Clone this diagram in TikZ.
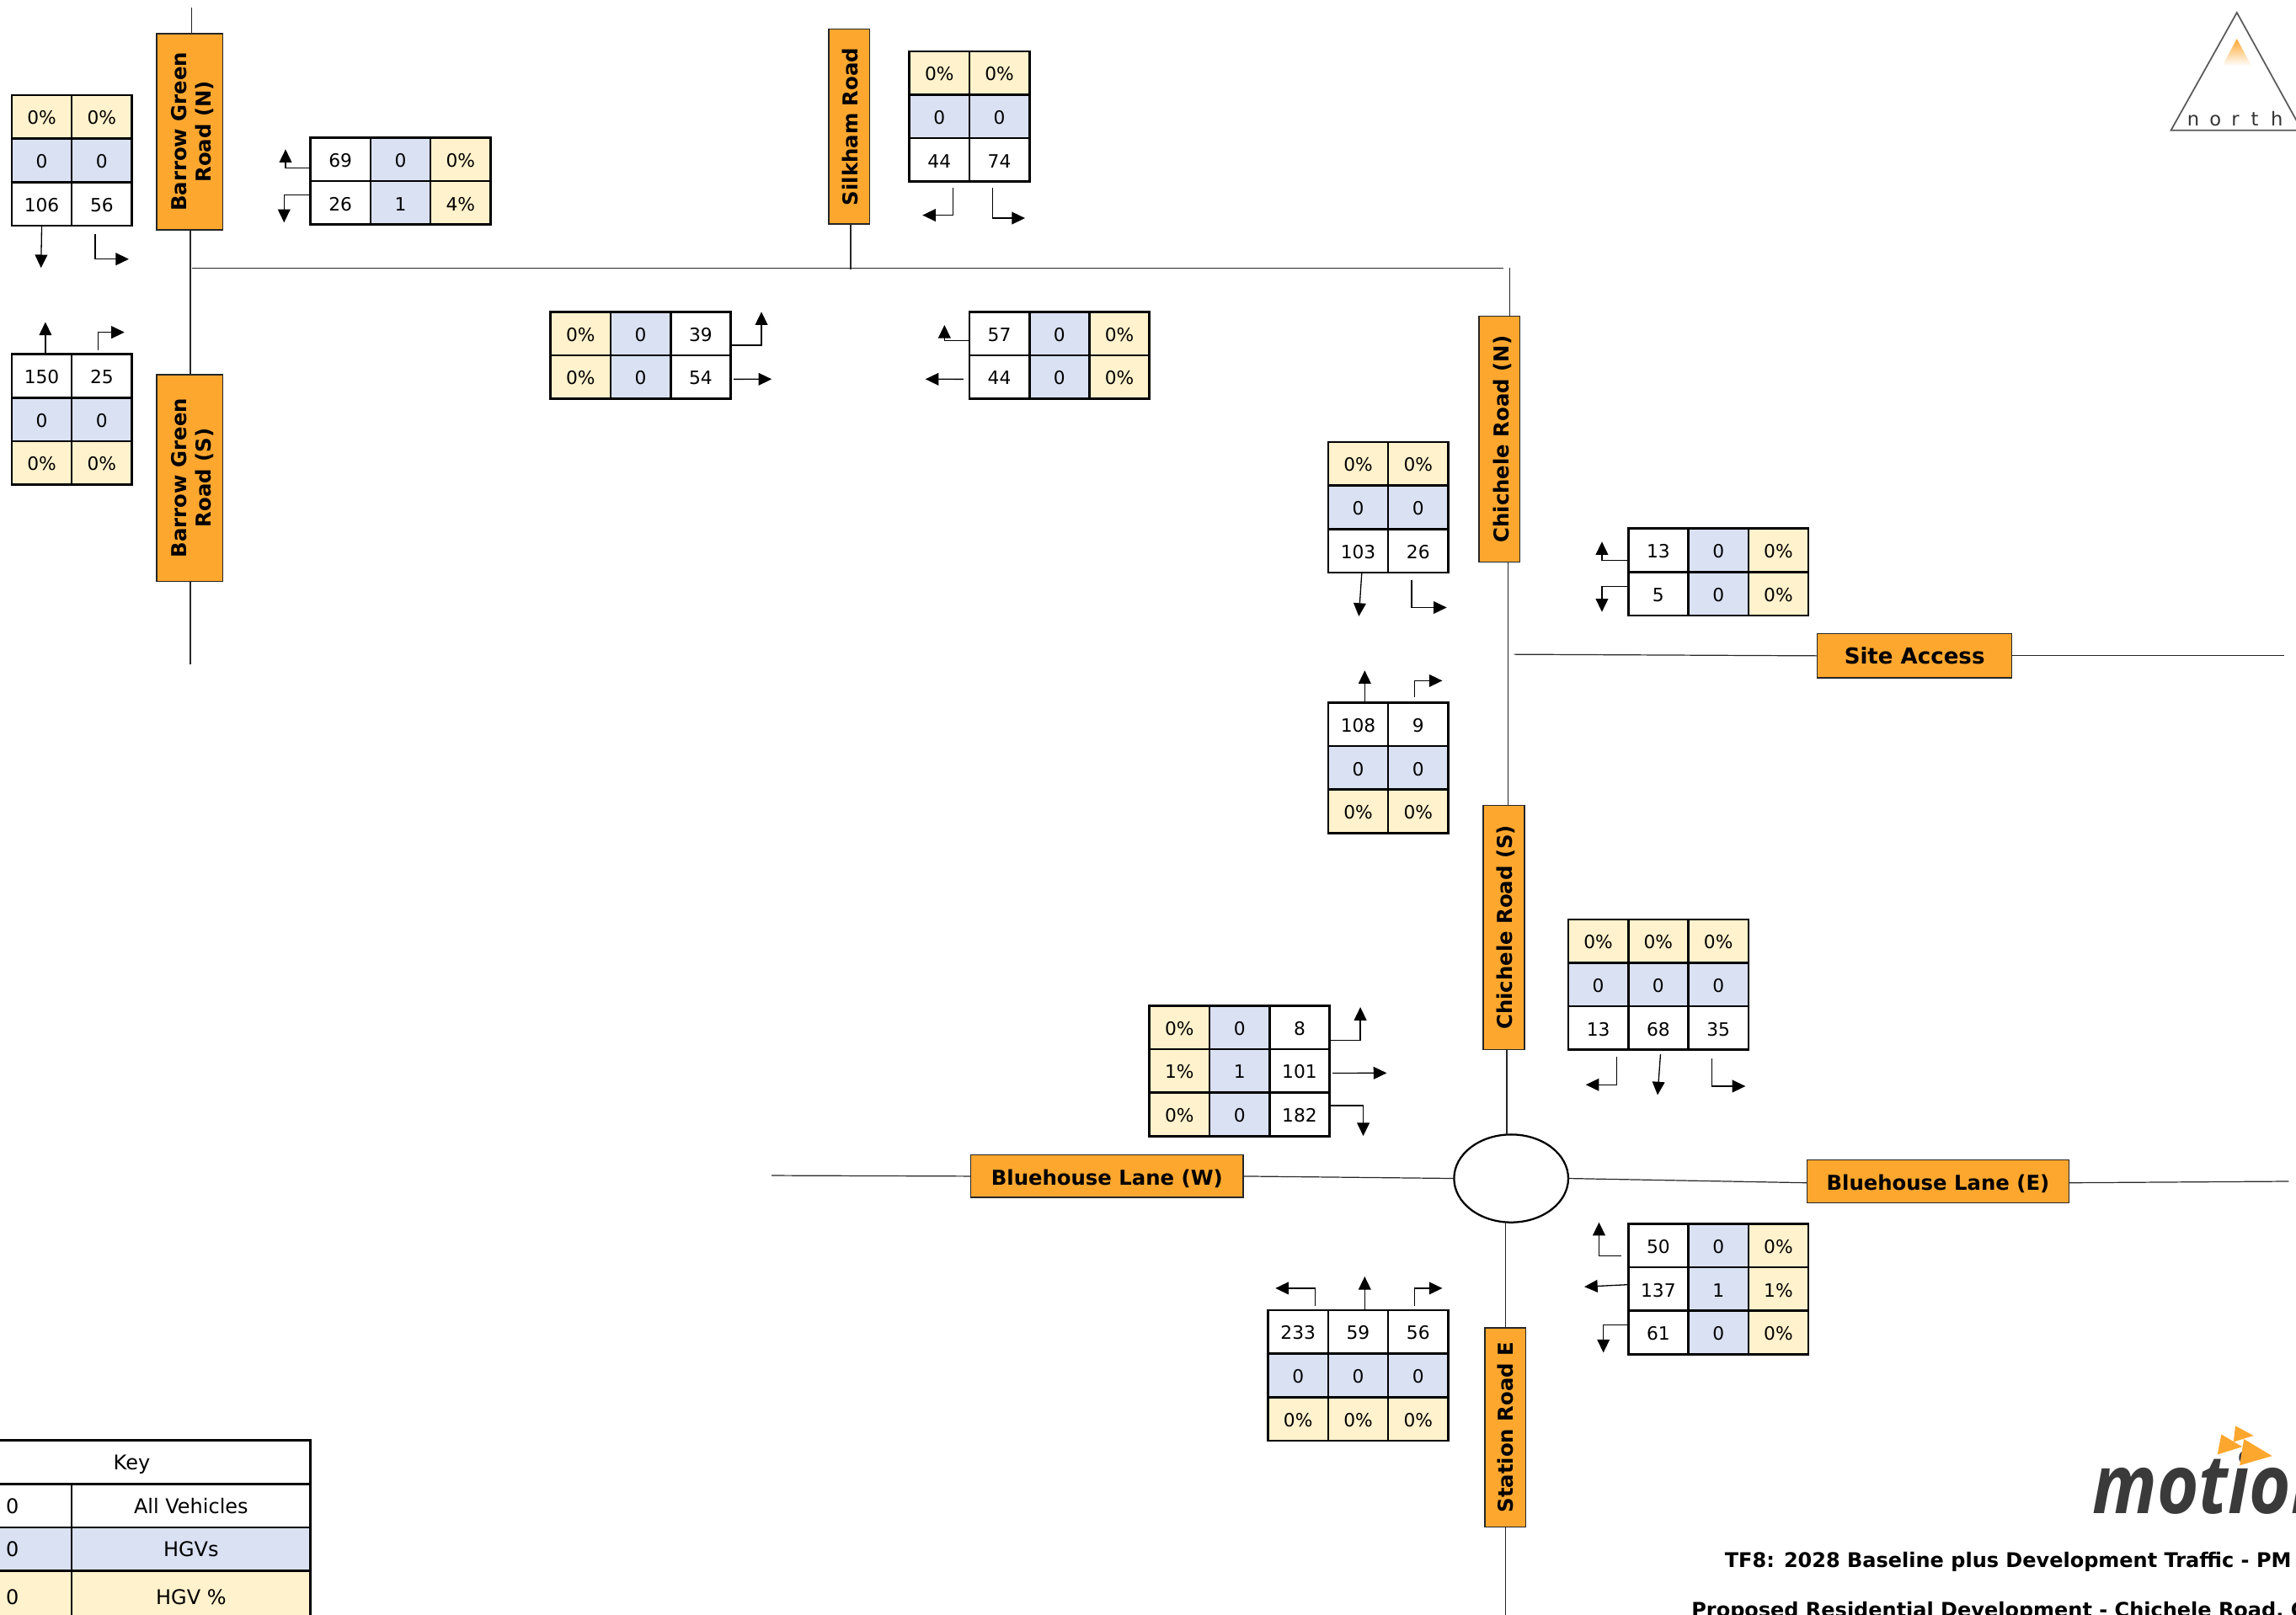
\documentclass[tikz,border=0pt]{standalone}
\usepackage{fontspec}
\setmainfont{DejaVu Sans}
\newfontfamily\logofont{Open Sans}
\usetikzlibrary{calc,arrows.meta,positioning,shapes.geometric}
\definecolor{roadorange}{HTML}{FDA72F}
\definecolor{hgvblue}{HTML}{D9E1F2}
\definecolor{pctcream}{HTML}{FFF2CC}
\definecolor{logogrey}{HTML}{3A3A3A}
\tikzset{
  volcell/.style={draw=black, line width=1.5pt, fill=white, outer sep=0pt, inner sep=0pt,
    minimum width=41pt, minimum height=29.7pt, text height=10.5pt, text depth=0pt,
    font=\fontsize{12.5}{15}\selectfont},
  hgvcell/.style={volcell, fill=hgvblue},
  pctcell/.style={volcell, fill=pctcream},
  keytext/.style={font=\fontsize{13.8}{16}\selectfont},
  roadlabel/.style={draw=black!85, line width=0.8pt, fill=roadorange, outer sep=0pt, inner sep=0pt,
    align=center, font=\fontsize{14}{17}\selectfont\bfseries},
  uplabel/.style={roadlabel, rotate=90},
  road/.style={draw=black!85, line width=0.7pt},
  arr/.style={-{Triangle[length=9pt,width=8.5pt]}, line width=0.75pt}
}
\begin{document}
\begin{tikzpicture}[x=1pt, y=-1pt, node distance=0pt and 0pt]
  \useasboundingbox (0,0) rectangle (1568,1103);

  % road names
  \node[uplabel, minimum width=134pt, minimum height=45pt, text height=31.5pt] (bgn) at (129.5,90) {Barrow Green\\Road (N)};
  \node[uplabel, minimum width=141pt, minimum height=45pt, text height=31.5pt] (bgs) at (129.5,326.5) {Barrow Green\\Road (S)};
  \node[uplabel, minimum width=133pt, minimum height=28pt, text height=12pt, text depth=0pt] (silk) at (580,86.5) {Silkham Road};
  \node[uplabel, minimum width=168pt, minimum height=28pt, text height=12.5pt, text depth=0pt] (chn) at (1024,300) {Chichele Road (N)};
  \node[uplabel, minimum width=167pt, minimum height=28pt, text height=12pt, text depth=0pt] (chs) at (1027,633.5) {Chichele Road (S)};
  \node[uplabel, minimum width=136pt, minimum height=28pt] (stn) at (1028,975) {Station Road E};
  \node[roadlabel, minimum width=133pt, minimum height=30pt, font=\fontsize{15}{18}\selectfont\bfseries] (site) at (1307.5,448) {Site Access};
  \node[roadlabel, minimum width=186pt, minimum height=29pt, text height=12pt, text depth=0pt] (blw) at (756,803.5) {Bluehouse Lane (W)};
  \node[roadlabel, minimum width=179pt, minimum height=29pt, text height=12pt, text depth=0pt] (ble) at (1323.5,807) {Bluehouse Lane (E)};
  \node[draw=black, line width=1.3pt, fill=white, shape=ellipse, outer sep=0pt, minimum width=78pt, minimum height=60pt] (rbt) at (1032,805) {};

  % road ends
  \coordinate (bgtop) at (131,5);
  \coordinate (bgend) at (130,454);
  \coordinate (bgjn) at (131,183);
  \coordinate (chjn) at (1027,183);
  \coordinate (silkjn) at (581,184);
  \coordinate (chtop) at (1031,183);
  \coordinate (sitew) at (1034,447);
  \coordinate (sitee) at (1560,448);
  \coordinate (blwend) at (527,803);
  \coordinate (bleend) at (1563,807);
  \coordinate (stnend) at (1028,1103);

  \draw[road] (bgtop) -- ([xshift=1.5pt]bgn.east);
  \draw[road] ([xshift=0.5pt]bgn.west) -- ([xshift=0.5pt]bgs.east);
  \draw[road] ([xshift=0.5pt]bgs.west) -- (bgend);
  \draw[road] (bgjn) -- (chjn);
  \draw[road] ([xshift=1pt]silk.west) -- (silkjn);
  \draw[road] (chtop) -- ([xshift=7pt]chn.east);
  \draw[road] ([xshift=6pt]chn.west) -- ([xshift=3pt]chs.east);
  \draw[road] ([xshift=2pt]chs.west) -- ([xshift=-3pt]rbt.north);
  \draw[road] ([xshift=-4pt]rbt.south) -- (stn.east);
  \draw[road] (stn.west) -- (stnend);
  \draw[road] (sitew) -- (site.west);
  \draw[road] (site.east) -- (sitee);
  \draw[road] (blwend) -- (blw.west);
  \draw[road] (blw.east) -- (rbt.west);
  \draw[road] (rbt.east) -- ([yshift=-1pt]ble.west);
  \draw[road] ([yshift=-1pt]ble.east) -- (bleend);

  % barrow green north arm
  \node[pctcell, anchor=north west] (a1) at (8,65) {0\%};
  \node[pctcell, right=of a1] (a2) {0\%};
  \node[hgvcell, below=of a1] (a3) {0};
  \node[hgvcell, right=of a3] (a4) {0};
  \node[volcell, below=of a3] (a5) {106};
  \node[volcell, right=of a5] (a6) {56};
  \coordinate (a5e) at (28,183);
  \coordinate (a6e) at (88,177);
  \draw[arr] (a5.south) -- (a5e);
  \draw[arr] ([xshift=-4.5pt,yshift=-6pt]a6.south) |- (a6e);

  % barrow green east arm
  \node[volcell, anchor=north west] (b1) at (212,94) {69};
  \node[hgvcell, right=of b1] (b2) {0};
  \node[pctcell, right=of b2] (b3) {0\%};
  \node[volcell, below=of b1] (b4) {26};
  \node[hgvcell, right=of b4] (b5) {1};
  \node[pctcell, right=of b5] (b6) {4\%};
  \coordinate (b1e) at (195,102);
  \coordinate (b4e) at (194,152);
  \draw[arr] ([yshift=-6pt]b1.west) -| (b1e);
  \draw[arr] ([yshift=5.5pt]b4.west) -| (b4e);

  % barrow green south arm
  \node[volcell, anchor=north west] (c1) at (8,242) {150};
  \node[volcell, right=of c1] (c2) {25};
  \node[hgvcell, below=of c1] (c3) {0};
  \node[hgvcell, right=of c3] (c4) {0};
  \node[pctcell, below=of c3] (c5) {0\%};
  \node[pctcell, right=of c5] (c6) {0\%};
  \coordinate (c1e) at (31,220);
  \coordinate (c2e) at (85,227);
  \draw[arr] ([xshift=2.5pt]c1.north) -- (c1e);
  \draw[arr] ([xshift=-2.5pt,yshift=3pt]c2.north) |- (c2e);

  % silkham road arm
  \node[pctcell, anchor=north west] (d1) at (621,35) {0\%};
  \node[pctcell, right=of d1] (d2) {0\%};
  \node[hgvcell, below=of d1] (d3) {0};
  \node[hgvcell, right=of d3] (d4) {0};
  \node[volcell, below=of d3] (d5) {44};
  \node[volcell, right=of d5] (d6) {74};
  \coordinate (d5e) at (630,147);
  \coordinate (d6e) at (700,149);
  \draw[arr] ([xshift=9.5pt,yshift=-4pt]d5.south) |- (d5e);
  \draw[arr] ([xshift=-4.5pt,yshift=-4pt]d6.south) |- (d6e);

  % silkham west side
  \node[pctcell, anchor=north west] (e1) at (376,213) {0\%};
  \node[hgvcell, right=of e1] (e2) {0};
  \node[volcell, right=of e2] (e3) {39};
  \node[pctcell, below=of e1] (e4) {0\%};
  \node[hgvcell, right=of e4] (e5) {0};
  \node[volcell, right=of e5] (e6) {54};
  \coordinate (e3e) at (520,213);
  \coordinate (e6e) at (527,259);
  \draw[arr] ([yshift=-8pt]e3.east) -| (e3e);
  \draw[arr] ([xshift=2pt,yshift=-1.5pt]e6.east) -- (e6e);

  % silkham east side
  \node[volcell, anchor=north west] (f1) at (662,213) {57};
  \node[hgvcell, right=of f1] (f2) {0};
  \node[pctcell, right=of f2] (f3) {0\%};
  \node[volcell, below=of f1] (f4) {44};
  \node[hgvcell, right=of f4] (f5) {0};
  \node[pctcell, right=of f5] (f6) {0\%};
  \coordinate (f1e) at (645,222);
  \coordinate (f4e) at (632,259);
  \draw[arr] ([yshift=-5pt]f1.west) -| (f1e);
  \draw[arr] ([xshift=-4pt,yshift=-1.5pt]f4.west) -- (f4e);

  % chichele north arm
  \node[pctcell, anchor=north west] (g1) at (907,302) {0\%};
  \node[pctcell, right=of g1] (g2) {0\%};
  \node[hgvcell, below=of g1] (g3) {0};
  \node[hgvcell, right=of g3] (g4) {0};
  \node[volcell, below=of g3] (g5) {103};
  \node[volcell, right=of g5] (g6) {26};
  \coordinate (g5e) at (928,421);
  \coordinate (g6e) at (988,415);
  \draw[arr] ([xshift=2.5pt]g5.south) -- (g5e);
  \draw[arr] ([xshift=-4.5pt,yshift=-5pt]g6.south) |- (g6e);

  % site access arm
  \node[volcell, anchor=north west] (h1) at (1112,361) {13};
  \node[hgvcell, right=of h1] (h2) {0};
  \node[pctcell, right=of h2] (h3) {0\%};
  \node[volcell, below=of h1] (h4) {5};
  \node[hgvcell, right=of h4] (h5) {0};
  \node[pctcell, right=of h5] (h6) {0\%};
  \coordinate (h1e) at (1094,370);
  \coordinate (h4e) at (1094,418);
  \draw[arr] ([yshift=-7pt]h1.west) -| (h1e);
  \draw[arr] ([yshift=5pt]h4.west) -| (h4e);

  % chichele south arm
  \node[volcell, anchor=north west] (i1) at (907,480) {108};
  \node[volcell, right=of i1] (i2) {9};
  \node[hgvcell, below=of i1] (i3) {0};
  \node[hgvcell, right=of i3] (i4) {0};
  \node[pctcell, below=of i3] (i5) {0\%};
  \node[pctcell, right=of i5] (i6) {0\%};
  \coordinate (i1e) at (932,458);
  \coordinate (i2e) at (985,465);
  \draw[arr] ([xshift=4.5pt]i1.north) -- (i1e);
  \draw[arr] ([xshift=-2.5pt,yshift=4pt]i2.north) |- (i2e);

  % roundabout north arm
  \node[pctcell, anchor=north west] (j1) at (1071,628) {0\%};
  \node[pctcell, right=of j1] (j2) {0\%};
  \node[pctcell, right=of j2] (j3) {0\%};
  \node[hgvcell, below=of j1] (j4) {0};
  \node[hgvcell, right=of j4] (j5) {0};
  \node[hgvcell, right=of j5] (j6) {0};
  \node[volcell, below=of j4] (j7) {13};
  \node[volcell, right=of j7] (j8) {68};
  \node[volcell, right=of j8] (j9) {35};
  \coordinate (j7e) at (1083,741);
  \coordinate (j8e) at (1132,748);
  \coordinate (j9e) at (1192,742);
  \draw[arr] ([xshift=12.5pt,yshift=-5pt]j7.south) |- (j7e);
  \draw[arr] ([xshift=1.5pt,yshift=-3pt]j8.south) -- (j8e);
  \draw[arr] ([xshift=-4.5pt,yshift=-6pt]j9.south) |- (j9e);

  % roundabout west arm
  \node[pctcell, anchor=north west] (k1) at (785,687) {0\%};
  \node[hgvcell, right=of k1] (k2) {0};
  \node[volcell, right=of k2] (k3) {8};
  \node[pctcell, below=of k1] (k4) {1\%};
  \node[hgvcell, right=of k4] (k5) {1};
  \node[volcell, right=of k5] (k6) {101};
  \node[pctcell, below=of k4] (k7) {0\%};
  \node[hgvcell, right=of k7] (k8) {0};
  \node[volcell, right=of k8] (k9) {182};
  \coordinate (k3e) at (929,688);
  \coordinate (k6e) at (947,733);
  \coordinate (k9e) at (931,776);
  \draw[arr] ([yshift=-9pt]k3.east) -| (k3e);
  \draw[arr] ([xshift=2pt,yshift=-1.5pt]k6.east) -- (k6e);
  \draw[arr] ([yshift=6pt]k9.east) -| (k9e);

  % roundabout east arm
  \node[volcell, anchor=north west] (l1) at (1112,836) {50};
  \node[hgvcell, right=of l1] (l2) {0};
  \node[pctcell, right=of l2] (l3) {0\%};
  \node[volcell, below=of l1] (l4) {137};
  \node[hgvcell, right=of l4] (l5) {1};
  \node[pctcell, right=of l5] (l6) {1\%};
  \node[volcell, below=of l4] (l7) {61};
  \node[hgvcell, right=of l7] (l8) {0};
  \node[pctcell, right=of l8] (l9) {0\%};
  \coordinate (l1e) at (1092,835);
  \coordinate (l4e) at (1082,879);
  \coordinate (l7e) at (1095,924);
  \draw[arr] ([xshift=-5pt,yshift=-7pt]l1.west) -| (l1e);
  \draw[arr] ([yshift=3pt]l4.west) -- (l4e);
  \draw[arr] ([yshift=5pt]l7.west) -| (l7e);

  % roundabout south arm
  \node[volcell, anchor=north west] (m1) at (866,895) {233};
  \node[volcell, right=of m1] (m2) {59};
  \node[volcell, right=of m2] (m3) {56};
  \node[hgvcell, below=of m1] (m4) {0};
  \node[hgvcell, right=of m4] (m5) {0};
  \node[hgvcell, right=of m5] (m6) {0};
  \node[pctcell, below=of m4] (m7) {0\%};
  \node[pctcell, right=of m7] (m8) {0\%};
  \node[pctcell, right=of m8] (m9) {0\%};
  \coordinate (m1e) at (871,880);
  \coordinate (m2e) at (932,872);
  \coordinate (m3e) at (985,880);
  \draw[arr] ([xshift=11.5pt,yshift=3pt]m1.north) |- (m1e);
  \draw[arr] ([xshift=4.5pt]m2.north) -- (m2e);
  \draw[arr] ([xshift=-2.5pt,yshift=3pt]m3.north) |- (m3e);

  % key
  \node[volcell, keytext, anchor=north west, minimum width=244pt] (keyhead) at (-32,984) {Key};
  \node[volcell, keytext, anchor=north west, minimum width=81pt] (keya) at (-32,1013.7) {0};
  \node[volcell, keytext, right=of keya, minimum width=163pt] (keyb) {All Vehicles};
  \node[hgvcell, keytext, below=of keya, minimum width=81pt] (keyc) {0};
  \node[hgvcell, keytext, right=of keyc, minimum width=163pt] (keyd) {HGVs};
  \node[pctcell, keytext, below=of keyc, minimum width=81pt, minimum height=35pt] (keye) {0};
  \node[pctcell, keytext, right=of keye, minimum width=163pt, minimum height=35pt] (keyf) {HGV \%};

  % north sign
  \shade[top color=roadorange, bottom color=white] (1527.6,26.5) -- (1537.6,45) -- (1517.6,45) -- cycle;
  \draw[draw=black!65, line width=1pt, line join=miter] (1527.6,8.6) -- (1572,89) -- (1482.6,89) -- cycle;
  \node[text=black!80, font=\fontsize{13}{15}\selectfont, anchor=base west, inner sep=0pt] (north) at (1493.5,86) {n\hspace{7pt}o\hspace{7pt}r\hspace{8pt}t\hspace{8.5pt}h};

  % motion logo
  \node[text=logogrey, font=\fontsize{56}{60}\selectfont\logofont\bfseries\itshape, anchor=base west, inner sep=0pt, xscale=0.87, transform shape] (logo) at (1429,1034) {motion};
  \fill[roadorange] (1526.6,974) -- (1539,980.7) -- (1525.3,985) -- cycle;
  \fill[roadorange] (1517,979.8) -- (1531.3,988.3) -- (1514.3,993.6) -- cycle;
  \fill[roadorange] (1532.4,983) -- (1551.7,994.6) -- (1529.5,1001) -- cycle;

  % titles
  \node[anchor=east, inner sep=0pt, font=\fontsize{13.8}{16}\selectfont\bfseries] (title) at (1565,1067) {TF8: 2028 Baseline plus Development Traffic - PM};
  \node[anchor=west, inner sep=0pt, font=\fontsize{13.8}{16}\selectfont\bfseries] (subtitle) at (1155,1101) {Proposed Residential Development - Chichele Road, C};
\end{tikzpicture}
\end{document}
